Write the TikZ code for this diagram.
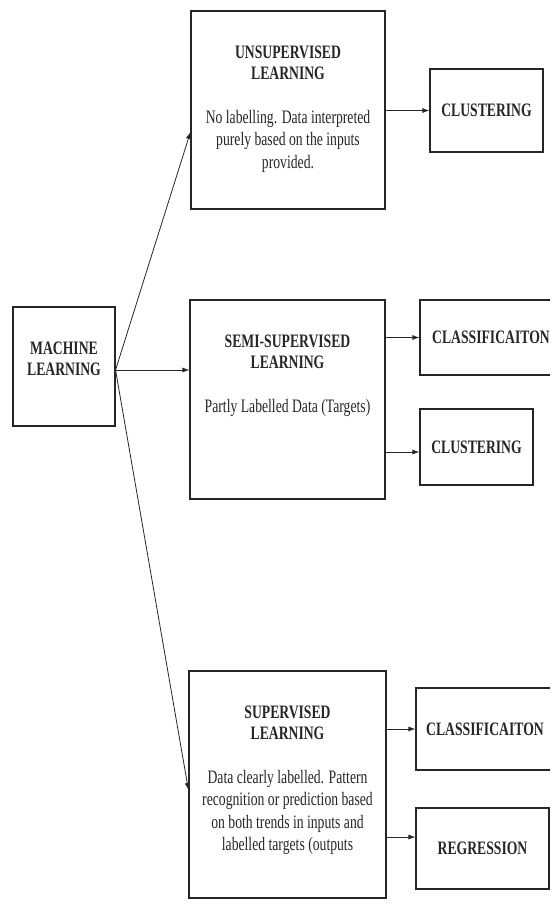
\documentclass[tikz,border=0pt]{standalone}
\usepackage{fontspec}
\setmainfont{Liberation Serif}[FakeStretch=0.72]
\usepackage{tikz}
\usetikzlibrary{positioning,arrows.meta}

\begin{document}
\begin{tikzpicture}[x=1pt, y=-1pt,
  box/.style={draw=black!85, line width=1.1pt, inner sep=0pt, align=center, text=black!85, font=\fontsize{19}{21.5}\selectfont\bfseries},
  body/.style={align=center, inner sep=0pt, text=black!85, font=\fontsize{19}{22.5}\selectfont},
  link/.style={draw=black!85, line width=0.8pt, -{Latex[length=7pt,width=5pt]}}]
\useasboundingbox (0,0) rectangle (550,908);
\clip (0,0) rectangle (550,908);

\node[box, minimum width=102pt, minimum height=119pt] (ml) at (64,366.5) {MACHINE\\LEARNING\\[-6pt]};
\node[box, minimum width=194pt, minimum height=198pt] (unsup) at (288,110) {};
\node[box, minimum width=195pt, minimum height=199pt] (semi) at (287.5,399.5) {};
\node[box, minimum width=197pt, minimum height=227pt] (sup) at (287.5,784.5) {};
\node[box, minimum width=113pt, minimum height=83pt] (clust1) at (486.5,110.5) {CLUSTERING};
\node[box, minimum width=142pt, minimum height=75pt] (class1) at (491,337.5) {CLASSIFICAITON};
\node[box, minimum width=113pt, minimum height=76pt] (clust2) at (476.5,447) {CLUSTERING};
\node[box, minimum width=138pt, minimum height=82pt] (class2) at (485,729) {CLASSIFICAITON};
\node[box, minimum width=133pt, minimum height=81pt] (reg) at (482.5,848.5) {REGRESSION};

\node[body, below=35pt of unsup.north] (unsuptxt) {\textbf{UNSUPERVISED}\\[-1.5pt]\textbf{LEARNING}\\[21.5pt]No labelling. Data interpreted\\purely based on the inputs\\provided.};
\node[body, below=35pt of semi.north] (semitxt) {\textbf{SEMI-SUPERVISED}\\[-1.5pt]\textbf{LEARNING}\\[21.5pt]Partly Labelled Data (Targets)};
\node[body, below=35pt of sup.north] (suptxt) {\textbf{SUPERVISED}\\[-1.5pt]\textbf{LEARNING}\\[21.5pt]Data clearly labelled. Pattern\\recognition or prediction based\\on both trends in inputs and\\labelled targets (outputs};

\coordinate (fork) at ([yshift=-3.5pt]ml.east);
\draw[link] (fork) -- ([yshift=-22pt]unsup.west);
\draw[link] (fork) -- (semi.west |- fork);
\draw[link] (fork) -- ([yshift=-5.5pt]sup.west);

\coordinate (clust2in) at ([yshift=-5pt]clust2.west);
\coordinate (regin) at ([yshift=11.5pt]reg.west);
\draw[link] (unsup.east |- clust1.west) -- (clust1.west);
\draw[link] (semi.east |- class1.west) -- (class1.west);
\draw[link] (semi.east |- clust2in) -- (clust2in);
\draw[link] (sup.east |- class2.west) -- (class2.west);
\draw[link] (sup.east |- regin) -- (regin);
\end{tikzpicture}
\end{document}
